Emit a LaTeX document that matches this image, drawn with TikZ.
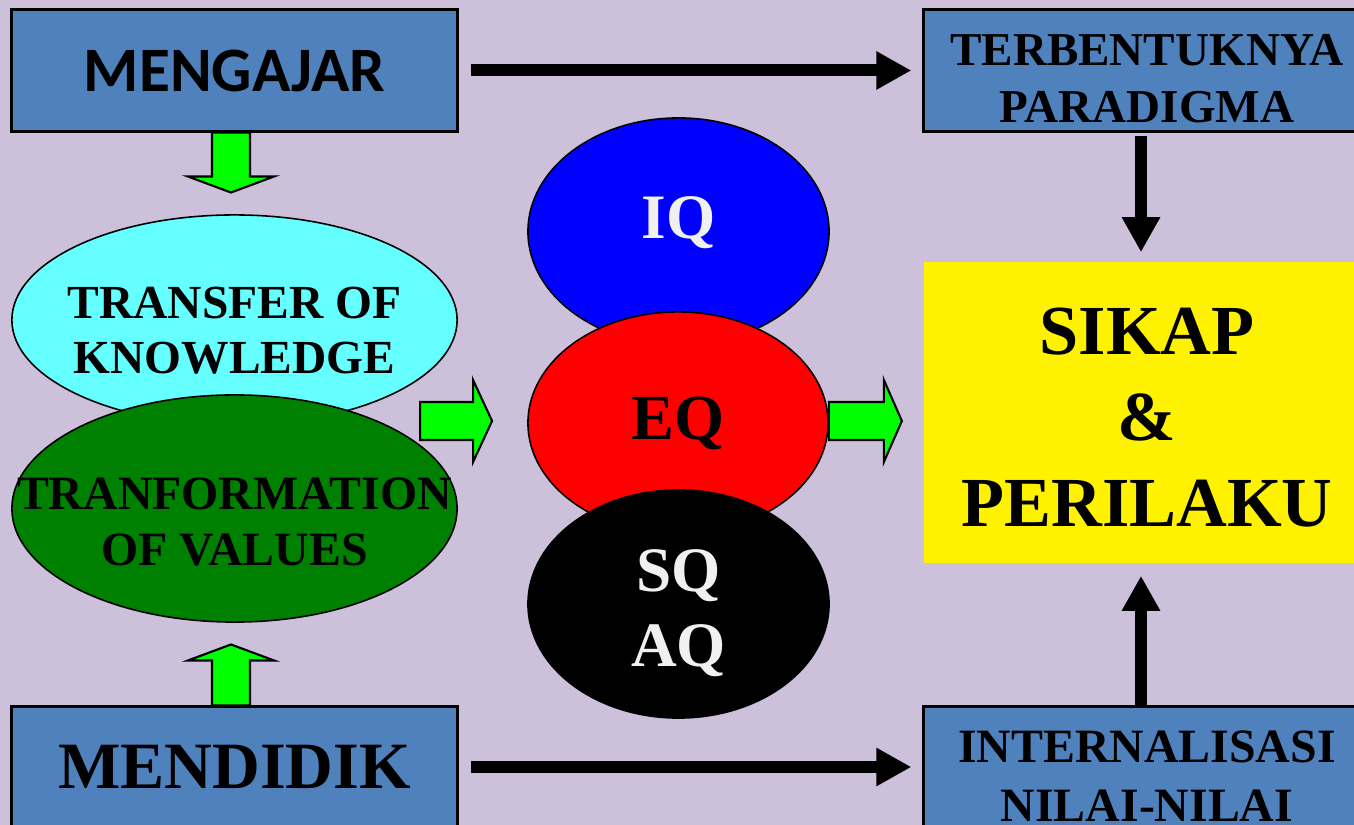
\documentclass[tikz,border=0pt]{standalone}
\usepackage{fontspec}
\setmainfont{Liberation Serif}
\newfontfamily\calibri{Carlito}
\definecolor{lavender}{RGB}{204,192,218}
\definecolor{steel}{RGB}{79,129,189}
\definecolor{aqua}{RGB}{102,255,255}
\definecolor{leaf}{RGB}{0,128,0}
\definecolor{lime}{RGB}{0,255,0}
\definecolor{offwhite}{RGB}{240,240,240}
\usetikzlibrary{calc, positioning, arrows.meta, shapes.geometric}

\begin{document}
\begin{tikzpicture}[x=0.01cm, y=-0.01cm,
    box/.style={draw=black, line width=0.85pt, fill=steel, inner sep=0pt},
    oval/.style={ellipse, draw=black, line width=0.45pt, inner sep=0pt},
    lbl/.style={align=center, text depth=0pt, inner sep=0pt},
    fatarrow/.style={draw=black, line width=0.6pt, fill=lime, line join=miter},
    blkarrow/.style={line width=0.12cm, -{Triangle[length=0.35cm, width=0.36cm]}},
  ]
    \fill[lavender] (0,0) rectangle (1354,825);
    \useasboundingbox (0,0) rectangle (1354,825);

    % boxes
    \node[box, minimum width=4.45cm, minimum height=1.21cm, text depth=0pt,
      font=\calibri\fontsize{18}{21}\selectfont\bfseries] (mengajar) at (234.5,70.5) {MENGAJAR};
    \node[box, minimum width=4.45cm, minimum height=1.20cm, text depth=0pt,
      font=\fontsize{18.8}{22}\selectfont\bfseries] (mendidik) at (234.5,767) {MENDIDIK};
    \node[box, minimum width=4.46cm, minimum height=1.21cm,
      label={[lbl, yshift=-0.08cm, font=\fontsize{13.4}{16.2}\selectfont\bfseries]center:{TERBENTUKNYA\\PARADIGMA}}] (terbentuk) at (1147,70.5) {};
    \node[box, minimum width=4.46cm, minimum height=1.38cm,
      label={[lbl, font=\fontsize{13.6}{16.8}\selectfont\bfseries]center:{INTERNALISASI\\NILAI-NILAI}}] (internal) at (1147,776) {};
    \node[fill=yellow, inner sep=0pt, minimum width=4.46cm, minimum height=3.01cm,
      label={[lbl, yshift=-0.05cm, font=\fontsize{20}{24.5}\selectfont\bfseries]center:{SIKAP\\\&\\PERILAKU}}] (sikap) at (1147,412.5) {};

    % ellipses
    \node[oval, fill=aqua, minimum width=4.45cm, minimum height=2.10cm,
      label={[lbl, yshift=-0.10cm, font=\fontsize{13.5}{15.6}\selectfont\bfseries]center:{TRANSFER OF\\KNOWLEDGE}}] (transfer) at (234.5,320) {};
    \node[oval, fill=leaf, minimum width=4.45cm, minimum height=2.27cm,
      label={[lbl, yshift=-0.13cm, font=\fontsize{13.6}{16}\selectfont\bfseries]center:{TRANFORMATION\\OF VALUES}}] (transform) at (234.5,508.5) {};
    \node[oval, fill=blue, minimum width=3.01cm, minimum height=2.27cm,
      label={[lbl, yshift=0.14cm, text=offwhite, font=\fontsize{18}{21}\selectfont\bfseries]center:IQ}] (iq) at (678.5,231.5) {};
    \node[oval, fill=red, minimum width=3.00cm, minimum height=2.22cm,
      label={[lbl, yshift=0.05cm, font=\fontsize{18.3}{21}\selectfont\bfseries]center:EQ}] (eq) at (678,423) {};
    \node[oval, fill=black, minimum width=3.01cm, minimum height=2.28cm,
      label={[lbl, yshift=-0.04cm, text=offwhite, font=\fontsize{18}{21.3}\selectfont\bfseries]center:{SQ\\AQ}}] (sq) at (678.5,604) {};

    % green block arrows
    \draw[fatarrow] ([xshift=-0.225cm]mengajar.south) -- ++(0,44) -- ++(-24,0) -- ++(43,16)
      -- ++(43,-16) -- ++(-24,0) -- ++(0,-44) -- cycle;
    \draw[fatarrow] ([xshift=-0.225cm]mendidik.north) -- ++(0,-45) -- ++(-24,0) -- ++(43,-16)
      -- ++(43,16) -- ++(-24,0) -- ++(0,45) -- cycle;
    \draw[fatarrow] ([xshift=-1.07cm, yshift=0.21cm]eq.west) -- ++(53,0) -- ++(0,-22) -- ++(19,41)
      -- ++(-19,41) -- ++(0,-22) -- ++(-53,0) -- cycle;
    \draw[fatarrow] ([yshift=0.21cm]eq.east) -- ++(55,0) -- ++(0,-22) -- ++(18,41)
      -- ++(-18,41) -- ++(0,-22) -- ++(-55,0) -- cycle;

    % black arrows
    \draw[blkarrow, shorten <=0.12cm, shorten >=0.11cm] (mengajar) -- (terbentuk);
    \draw[blkarrow, shorten <=0.12cm, shorten >=0.11cm] (mendidik.east) -- (mendidik.east -| internal.west);
    \draw[blkarrow, shorten <=0.03cm, shorten >=0.09cm] ([xshift=-0.06cm]terbentuk.south)
      -- ([xshift=-0.06cm]terbentuk.south |- sikap.north);
    \draw[blkarrow, shorten >=0.12cm] ([xshift=-0.06cm]internal.north)
      -- ([xshift=-0.06cm]internal.north |- sikap.south);
  \end{tikzpicture}
\end{document}
